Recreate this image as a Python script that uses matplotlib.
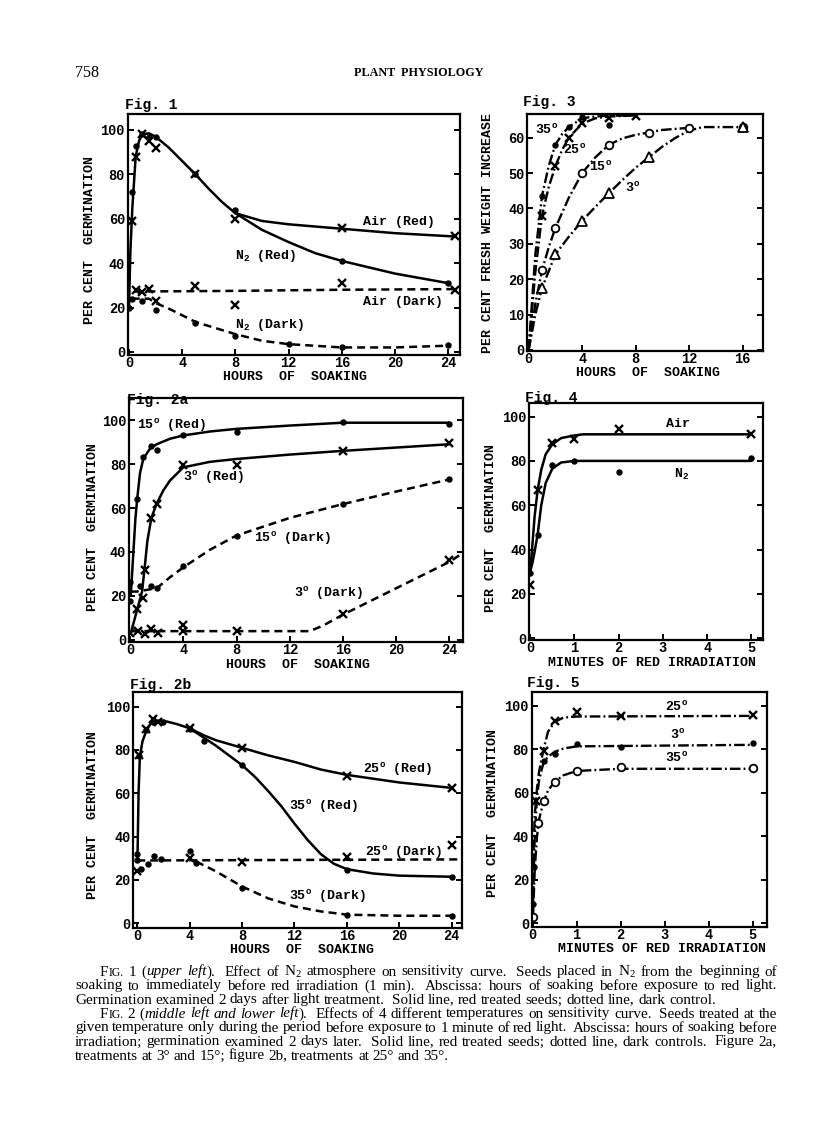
import matplotlib
matplotlib.use('Agg')
import matplotlib.pyplot as plt

# ---------------- DATA ----------------
# Fig. 1  (hours of soaking vs per cent germination)
f1_air_red_x = [0.25, 0.5, 1, 1.5, 2, 5, 8, 16, 24.5]
f1_air_red_y = [59, 88, 98, 95, 92, 80, 60, 56, 52]
f1_n2_red_x = [0, 0.25, 0.5, 1, 1.5, 2, 5, 8, 16, 24]
f1_n2_red_y = [20, 72, 93, 98, 97, 97, 80, 64, 41, 31]
f1_air_dark_x = [0.5, 1, 1.5, 2, 5, 8, 16, 24.5]
f1_air_dark_y = [28, 27, 28.5, 23, 29.5, 21, 31, 28]
f1_n2_dark_x = [0.25, 1, 2, 5, 8, 12, 16, 24]
f1_n2_dark_y = [24, 23, 19, 13, 7, 3.5, 2, 3]
# hand-drawn curves (knots)
f1_air_red_cx = [0, 0.1, 0.25, 0.5, 0.75, 1, 1.5, 2, 3, 4, 5, 6, 7, 8, 10, 12, 16, 20, 24.5]
f1_air_red_cy = [20, 45, 65, 88, 95, 98, 98.5, 97, 92, 86, 80, 73.5, 67.5, 62.5, 59, 57.5, 55.5, 53.5, 52]
f1_n2_red_cx = [8, 10, 12, 14, 16, 20, 24]
f1_n2_red_cy = [62.5, 55, 49.5, 44.5, 41, 35.3, 31]
f1_air_dark_cx = [0.4, 8, 16, 24.5]
f1_air_dark_cy = [27.2, 27.5, 28, 28.3]
f1_n2_dark_cx = [0.2, 1.5, 2, 3, 4, 5, 8, 10, 12, 16, 20, 24]
f1_n2_dark_cy = [24, 24, 22, 19.5, 16.5, 13.5, 8, 5, 3.5, 2, 2, 2.8]

# Fig. 3  (per cent fresh weight increase)
f3_35_x = [1, 2, 3, 4, 6, 16]
f3_35_y = [43.5, 58, 63, 65.8, 63.5, 63]
f3_25_x = [1, 2, 3, 4, 6, 8]
f3_25_y = [38, 52, 60, 64.2, 65.5, 66]
f3_15_x = [1, 2, 4, 6, 9, 12, 16]
f3_15_y = [22.5, 34.5, 50, 58, 61.2, 62.8, 63]
f3_3_x = [1, 2, 4, 6, 9, 16]
f3_3_y = [17.5, 27, 36.5, 44.3, 54.5, 63]
f3_35_cx = [0, 0.5, 1, 1.5, 2, 2.5, 3, 4, 5, 6, 8]
f3_35_cy = [0, 27, 43.5, 52, 58, 61, 63, 65.5, 66, 66.2, 66.3]
f3_25_cx = [0, 0.5, 1, 1.5, 2, 2.5, 3, 4, 5, 6, 8]
f3_25_cy = [0, 22, 38, 46, 52, 56.5, 60, 64, 65.5, 66, 66.3]
f3_15_cx = [0, 0.5, 1, 1.5, 2, 3, 4, 5, 6, 7, 8, 9, 10, 12]
f3_15_cy = [0, 13, 22.5, 29, 34.5, 43, 50, 54.5, 58, 59.8, 60.8, 61.5, 62.2, 62.8]
f3_3_cx = [0, 0.5, 1, 2, 3, 4, 5, 6, 7, 8, 9, 10, 11, 12, 13, 16]
f3_3_cy = [0, 10, 17.5, 27, 32, 36.5, 40.5, 44.3, 48, 51.5, 54.5, 57.5, 60, 62, 63, 63]

# Fig. 2a  (3 and 15 degrees)
f2a_15r_x = [0, 0.55, 1, 1.6, 2, 4, 8, 16, 24]
f2a_15r_y = [26.5, 64, 83, 88, 86.5, 93, 94.5, 99, 98]
f2a_3r_x = [0.5, 1, 1.15, 1.6, 2, 4, 8, 16, 24]
f2a_3r_y = [14, 19, 32, 55.5, 62, 79.5, 79.5, 86, 89.5]
f2a_15d_x = [0, 0.75, 1.6, 2, 4, 8, 16, 24]
f2a_15d_y = [17.5, 24.5, 24.5, 23.5, 33.5, 47.5, 62, 73]
f2a_3d_x = [0, 0.6, 1.1, 1.6, 2.1, 4, 4, 8, 16, 24]
f2a_3d_y = [3, 4, 2.5, 5, 3, 7, 4, 4, 12, 36.5]
f2a_15r_cx = [0.05, 0.2, 0.4, 0.55, 0.75, 1, 1.5, 2, 3, 4, 6, 8, 12, 16, 24]
f2a_15r_cy = [20, 35, 55, 65, 76, 82.5, 87, 89, 91.5, 93, 94.8, 96, 97.5, 98.8, 98.8]
f2a_3r_cx = [0.05, 0.5, 0.9, 1.1, 1.3, 1.6, 2, 2.5, 3, 4, 6, 8, 12, 16, 24]
f2a_3r_cy = [3, 13, 22, 33, 45, 55.5, 62, 68, 72.5, 78.5, 81, 82.3, 84.3, 86, 89]
f2a_15d_cx = [0.05, 0.5, 1, 2, 3, 4, 6, 8, 12, 16, 20, 24]
f2a_15d_cy = [22, 22, 22.5, 23.5, 28.5, 33, 41, 47.5, 55.5, 61.8, 67.5, 73]
f2a_3d_cx = [0.1, 1, 4, 8, 13.5, 14.5, 16, 18, 20, 22, 24, 25]
f2a_3d_cy = [4, 4, 4, 4, 4, 6.5, 11.5, 17.5, 23.5, 29.5, 35.5, 39.5]

# Fig. 4  (minutes of red irradiation)
f4_air_x = [0, 0.17, 0.5, 1, 2, 5]
f4_air_y = [24, 67, 88, 90, 94.3, 92.2]
f4_n2_x = [0, 0.17, 0.5, 1, 2, 5]
f4_n2_y = [29.5, 46.5, 78, 80, 75.2, 81.5]
f4_air_cx = [0, 0.05, 0.1, 0.17, 0.25, 0.35, 0.5, 0.7, 1, 1.2, 5]
f4_air_cy = [30, 42, 55, 67, 76, 83, 87.5, 90.3, 91.5, 92, 92]
f4_n2_cx = [0, 0.05, 0.1, 0.17, 0.25, 0.35, 0.5, 0.7, 1, 5]
f4_n2_cy = [30, 34, 39, 47, 60, 70, 76.5, 79.3, 80, 80]

# Fig. 2b  (25 and 35 degrees)
f2b_25r_x = [0.15, 0.65, 1.2, 1.6, 4, 8, 16, 24]
f2b_25r_y = [77.5, 89.5, 94.5, 93, 90, 81, 68, 62.5]
f2b_35r_x = [0, 0.15, 0.65, 1.2, 2, 4, 5.1, 8, 16, 24]
f2b_35r_y = [32, 77, 89, 93, 93, 89.5, 84, 73, 24.5, 21.5]
f2b_25d_x = [0, 4, 8, 16, 24]
f2b_25d_y = [24, 30, 28.5, 30.5, 36]
f2b_35d_x = [0, 0.25, 0.85, 1.3, 1.8, 4, 4.5, 8, 16, 24]
f2b_35d_y = [29, 25, 27.5, 31, 29.5, 33.5, 28, 16.5, 4, 3.5]
f2b_25r_cx = [0.02, 0.1, 0.2, 0.4, 0.7, 1, 1.5, 2, 3, 4, 5, 6, 8, 10, 12, 14, 16, 20, 24]
f2b_25r_cy = [30, 60, 77, 84, 89, 92, 93.5, 93.5, 92, 90, 87, 84.5, 81, 77.5, 74.5, 71, 68.5, 65, 62.5]
f2b_35r_cx = [4, 5, 6, 7, 8, 9, 10, 11, 12, 13, 14, 15, 16, 18, 20, 24]
f2b_35r_cy = [90, 86, 82, 77.5, 73, 67.5, 61, 54, 46, 38.5, 32, 27.5, 25, 23, 22, 21.5]
f2b_25d_cx = [0, 24.5]
f2b_25d_cy = [29, 29.5]
f2b_35d_cx = [4.5, 5, 6, 7, 8, 10, 12, 14, 16, 20, 24]
f2b_35d_cy = [28.5, 27, 24, 20.5, 17, 11.5, 7.8, 5.5, 4, 3.5, 3.5]

# Fig. 5  (minutes of red irradiation, three temperatures)
f5_25_x = [0.08, 0.25, 0.5, 1, 2, 5]
f5_25_y = [56, 79, 93, 97, 95.3, 95.5]
f5_3_x = [0.01, 0.03, 0.25, 0.5, 1, 2, 5]
f5_3_y = [9, 26, 74.5, 78, 82.5, 81.2, 82.7]
f5_35_x = [0, 0.13, 0.25, 0.5, 1, 2, 5]
f5_35_y = [3, 46, 56, 65, 70, 72, 71.5]
f5_25_cx = [0.01, 0.05, 0.1, 0.15, 0.25, 0.35, 0.5, 0.7, 1, 5]
f5_25_cy = [25, 50, 62, 70, 80, 88, 92.5, 94.5, 95, 95.3]
f5_3_cx = [0.01, 0.05, 0.1, 0.15, 0.25, 0.35, 0.5, 0.7, 1, 5]
f5_3_cy = [10, 40, 58, 66, 74, 76.5, 78.8, 80.3, 81.3, 82]
f5_35_cx = [0.01, 0.05, 0.1, 0.15, 0.25, 0.35, 0.5, 0.7, 1, 2, 5]
f5_35_cy = [3, 25, 40, 48, 56, 61, 65, 68, 70, 71, 71]

hours_ticks = [0, 4, 8, 12, 16, 20, 24]
weight_ticks_x = [0, 4, 8, 12, 16]
germ_ticks = [0, 20, 40, 60, 80, 100]
weight_ticks_y = [0, 10, 20, 30, 40, 50, 60]
minute_ticks = [0, 1, 2, 3, 4, 5]

caption_lines = [
    ("F#IG.# 1 (*upper left*).  Effect of N$_2$ atmosphere on sensitivity curve.  Seeds placed in N$_2$ from the beginning of", True, True),
    ("soaking to immediately before red irradiation (1 min).  Abscissa: hours of soaking before exposure to red light.", False, True),
    ("Germination examined 2 days after light treatment.  Solid line, red treated seeds; dotted line, dark control.", False, False),
    ("F#IG.# 2 (*middle left and lower left*).  Effects of 4 different temperatures on sensitivity curve.  Seeds treated at the", True, True),
    ("given temperature only during the period before exposure to 1 minute of red light.  Abscissa: hours of soaking before", False, True),
    ("irradiation; germination examined 2 days later.  Solid line, red treated seeds; dotted line, dark controls.  Figure 2a,", False, True),
    ("treatments at 3° and 15°; figure 2b, treatments at 25° and 35°.", False, False),
]

# ---------------- STYLE ----------------
W, H = 816, 1121
MONO = 'Liberation Mono'
SERIF = 'Liberation Serif'
plt.rcParams['font.family'] = [MONO, 'DejaVu Sans']
plt.rcParams['font.weight'] = 'bold'
plt.rcParams['mathtext.default'] = 'regular'
plt.rcParams['axes.linewidth'] = 1.6

fig = plt.figure(figsize=(W / 100, H / 100), dpi=100)
fig.patch.set_facecolor('white')

SOLID = '-'
DASH = (0, (3.2, 2.0))
DASHDOT = (0, (4.5, 1.3, 0.8, 1.3))
LW = 1.8


def add_ax(l, t, r, b):
    return fig.add_axes([l / W, 1 - b / H, (r - l) / W, (b - t) / H])


def style_ax(ax, xlim, ylim, xt, yt):
    ax.set_xlim(*xlim)
    ax.set_ylim(*ylim)
    ax.set_xticks(xt)
    ax.set_yticks(yt)
    ax.tick_params(direction='in', length=4, width=1.4, labelsize=9.8,
                   right=True, top=False)
    ax.tick_params(axis='x', pad=0.8)
    ax.tick_params(axis='y', pad=2)
    for lab in ax.get_xticklabels() + ax.get_yticklabels():
        lab.set_fontweight('bold')


def ftext(x, y, s, **kw):
    fig.text(x / W, 1 - y / H, s, **kw)


def curve(ax, x, y, ls, lw=LW):
    ax.plot(x, y, color='black', lw=lw, linestyle=ls, solid_capstyle='round',
            dash_capstyle='butt')


def pts(ax, x, y, kind):
    if kind == 'x':
        ax.plot(x, y, 'x', color='black', ms=5.5, mew=1.7, linestyle='none')
    elif kind == 'dot':
        ax.plot(x, y, 'o', color='black', ms=3.6, linestyle='none')
    elif kind == 'circ':
        ax.plot(x, y, 'o', color='black', mfc='white', ms=5.5, mew=1.3, linestyle='none')
    elif kind == 'tri':
        ax.plot(x, y, '^', color='black', mfc='white', ms=6.5, mew=1.3, linestyle='none')


LBL = dict(fontsize=9.5, fontweight='bold', ha='left', va='center')
AXL = dict(fontsize=9.5, fontweight='bold', ha='center', va='center')
TTL = dict(fontsize=10.5, fontweight='bold', ha='left', va='center')

# ---------------- Fig. 1 ----------------
ax1 = add_ax(127.7, 114, 460, 355)
style_ax(ax1, (-0.1, 24.9), (-1.4, 107.2), hours_ticks, germ_ticks)
curve(ax1, f1_air_red_cx, f1_air_red_cy, SOLID)
curve(ax1, f1_n2_red_cx, f1_n2_red_cy, SOLID)
curve(ax1, f1_air_dark_cx, f1_air_dark_cy, DASH)
curve(ax1, f1_n2_dark_cx, f1_n2_dark_cy, DASH)
pts(ax1, f1_air_red_x, f1_air_red_y, 'x')
pts(ax1, f1_n2_red_x, f1_n2_red_y, 'dot')
pts(ax1, f1_air_dark_x, f1_air_dark_y, 'x')
pts(ax1, f1_n2_dark_x, f1_n2_dark_y, 'dot')
ax1.text(17.6, 58.5, 'Air (Red)', **LBL)
ax1.text(8.0, 43, 'N$_2$ (Red)', **LBL)
ax1.text(17.6, 22.5, 'Air (Dark)', **LBL)
ax1.text(8.0, 12, 'N$_2$ (Dark)', **LBL)
ftext(125, 105, 'Fig. 1', **TTL)
ftext(295, 377, 'HOURS  OF  SOAKING', **AXL)
ftext(90, 240, 'PER CENT  GERMINATION', rotation=90, **AXL)

# ---------------- Fig. 3 ----------------
ax3 = add_ax(527.3, 114, 762.7, 351)
style_ax(ax3, (-0.1, 17.5), (-0.3, 66.7), weight_ticks_x, weight_ticks_y)
curve(ax3, f3_35_cx, f3_35_cy, DASHDOT, 1.7)
curve(ax3, f3_25_cx, f3_25_cy, DASHDOT, 1.7)
curve(ax3, f3_15_cx, f3_15_cy, DASHDOT, 1.7)
curve(ax3, f3_3_cx, f3_3_cy, DASHDOT, 1.7)
pts(ax3, f3_35_x, f3_35_y, 'dot')
pts(ax3, f3_25_x, f3_25_y, 'x')
pts(ax3, f3_15_x, f3_15_y, 'circ')
pts(ax3, f3_3_x, f3_3_y, 'tri')
ax3.text(0.5, 62.3, '35$^o$', **LBL)
ax3.text(2.6, 56.5, '25$^o$', **LBL)
ax3.text(4.5, 51.8, '15$^o$', **LBL)
ax3.text(7.2, 45.7, '3$^o$', **LBL)
ftext(523, 101.7, 'Fig. 3', **TTL)
ftext(648, 373.5, 'HOURS  OF  SOAKING', **AXL)
ftext(488, 233, 'PER CENT FRESH WEIGHT INCREASE', rotation=90, **AXL)

# ---------------- Fig. 2a ----------------
ax2a = add_ax(129, 398.3, 462.7, 641.7)
style_ax(ax2a, (-0.08, 25.0), (-0.8, 109.9), hours_ticks, germ_ticks)
curve(ax2a, f2a_15r_cx, f2a_15r_cy, SOLID)
curve(ax2a, f2a_3r_cx, f2a_3r_cy, SOLID)
curve(ax2a, f2a_15d_cx, f2a_15d_cy, DASH)
curve(ax2a, f2a_3d_cx, f2a_3d_cy, DASH)
pts(ax2a, f2a_15r_x, f2a_15r_y, 'dot')
pts(ax2a, f2a_3r_x, f2a_3r_y, 'x')
pts(ax2a, f2a_15d_x, f2a_15d_y, 'dot')
pts(ax2a, f2a_3d_x, f2a_3d_y, 'x')
ax2a.text(0.5, 97.7, '15$^o$ (Red)', **LBL)
ax2a.text(4.0, 74, '3$^o$ (Red)', **LBL)
ax2a.text(9.3, 46.2, '15$^o$ (Dark)', **LBL)
ax2a.text(12.3, 21.2, '3$^o$ (Dark)', **LBL)
ftext(126.7, 400, 'Fig. 2a', **TTL)
ftext(298, 665, 'HOURS  OF  SOAKING', **AXL)
ftext(92.7, 526.7, 'PER CENT  GERMINATION', rotation=90, **AXL)

# ---------------- Fig. 4 ----------------
ax4 = add_ax(529.3, 403.3, 763.3, 640)
style_ax(ax4, (-0.02, 5.27), (-0.8, 106), minute_ticks, germ_ticks)
curve(ax4, f4_air_cx, f4_air_cy, SOLID)
curve(ax4, f4_n2_cx, f4_n2_cy, SOLID)
pts(ax4, f4_air_x, f4_air_y, 'x')
pts(ax4, f4_n2_x, f4_n2_y, 'dot')
ax4.text(3.08, 96.5, 'Air', **LBL)
ax4.text(3.25, 73.7, 'N$_2$', **LBL)
ftext(525, 397.7, 'Fig. 4', **TTL)
ftext(651.7, 663.5, 'MINUTES OF RED IRRADIATION', **AXL)
ftext(490.7, 527.7, 'PER CENT  GERMINATION', rotation=90, **AXL)

# ---------------- Fig. 2b ----------------
ax2b = add_ax(133.3, 691.7, 461.7, 928.3)
style_ax(ax2b, (-0.3, 24.76), (-2.3, 106.9), hours_ticks, germ_ticks)
curve(ax2b, f2b_25r_cx, f2b_25r_cy, SOLID)
curve(ax2b, f2b_35r_cx, f2b_35r_cy, SOLID)
curve(ax2b, f2b_25d_cx, f2b_25d_cy, DASH)
curve(ax2b, f2b_35d_cx, f2b_35d_cy, DASH)
pts(ax2b, f2b_25r_x, f2b_25r_y, 'x')
pts(ax2b, f2b_35r_x, f2b_35r_y, 'dot')
pts(ax2b, f2b_25d_x, f2b_25d_y, 'x')
pts(ax2b, f2b_35d_x, f2b_35d_y, 'dot')
ax2b.text(17.25, 71.2, '25$^o$ (Red)', **LBL)
ax2b.text(11.6, 53.8, '35$^o$ (Red)', **LBL)
ax2b.text(17.4, 32.6, '25$^o$ (Dark)', **LBL)
ax2b.text(11.6, 12.3, '35$^o$ (Dark)', **LBL)
ftext(130, 685, 'Fig. 2b', **TTL)
ftext(301.7, 950, 'HOURS  OF  SOAKING', **AXL)
ftext(93, 815, 'PER CENT  GERMINATION', rotation=90, **AXL)

# ---------------- Fig. 5 ----------------
ax5 = add_ax(531.7, 691.7, 766.7, 926.7)
style_ax(ax5, (-0.02, 5.32), (-1.5, 106.4), minute_ticks, germ_ticks)
curve(ax5, f5_25_cx, f5_25_cy, DASHDOT, 1.7)
curve(ax5, f5_3_cx, f5_3_cy, DASHDOT, 1.7)
curve(ax5, f5_35_cx, f5_35_cy, DASHDOT, 1.7)
pts(ax5, f5_25_x, f5_25_y, 'x')
pts(ax5, f5_3_x, f5_3_y, 'dot')
pts(ax5, f5_35_x, f5_35_y, 'circ')
ax5.text(3.0, 99.2, '25$^o$', **LBL)
ax5.text(3.12, 86.5, '3$^o$', **LBL)
ax5.text(3.0, 75.8, '35$^o$', **LBL)
ftext(527.3, 682.7, 'Fig. 5', **TTL)
ftext(661.7, 949, 'MINUTES OF RED IRRADIATION', **AXL)
ftext(493, 813, 'PER CENT  GERMINATION', rotation=90, **AXL)

# ---------------- page header ----------------
ftext(75, 73, '758', family=SERIF, fontweight='normal', fontsize=11.5, ha='left', va='center')
ftext(418.5, 73, 'PLANT  PHYSIOLOGY', family=SERIF, fontweight='bold', fontsize=8.7,
      ha='center', va='center')

# ---------------- caption (justified) ----------------
CAP_SIZE = 10.9
renderer = fig.canvas.get_renderer()


def parse_words(line):
    words = []
    italic = False
    small = False
    for raw in line.split(' '):
        if raw == '':
            if words:
                words[-1]['extra'] += 1
            continue
        segs = []
        buf = ''
        for ch in raw:
            if ch in '*#':
                if buf:
                    segs.append((buf, italic, small))
                buf = ''
                if ch == '*':
                    italic = not italic
                else:
                    small = not small
            else:
                buf += ch
        if buf:
            segs.append((buf, italic, small))
        words.append({'segs': segs, 'extra': 0})
    return words


def measure(s, size):
    t = fig.text(0, 0, s, family=SERIF, fontweight='normal', fontsize=size)
    w = t.get_window_extent(renderer).width
    t.remove()
    return w


SPACE = measure('a a', CAP_SIZE) - measure('aa', CAP_SIZE)


def draw_caption_line(line, indent, justify, y):
    x0 = 100 if indent else 75
    x1 = 777
    words = parse_words(line)
    items = []
    total = 0
    for w in words:
        arts = []
        ww = 0
        for s, it, sm in w['segs']:
            t = fig.text(0, 0, s, family=SERIF, fontweight='normal',
                         style='italic' if it else 'normal',
                         fontsize=CAP_SIZE * (0.78 if sm else 1.0), va='baseline')
            bw = t.get_window_extent(renderer).width
            arts.append((t, bw))
            ww += bw
        items.append((arts, ww, 1.0 + 0.8 * w['extra']))
        total += ww
    weights = [it[2] for it in items[:-1]]
    if justify and len(items) > 1:
        unit = (x1 - x0 - total) / sum(weights)
    else:
        unit = SPACE
    x = x0
    for arts, ww, wt in items:
        for t, bw in arts:
            t.set_position((x / W, 1 - y / H))
            x += bw
        x += unit * wt


for i, (line, indent, justify) in enumerate(caption_lines):
    draw_caption_line(line, indent, justify, 975.5 + 14 * i)

fig.savefig('out.png', dpi=100, facecolor='white')
